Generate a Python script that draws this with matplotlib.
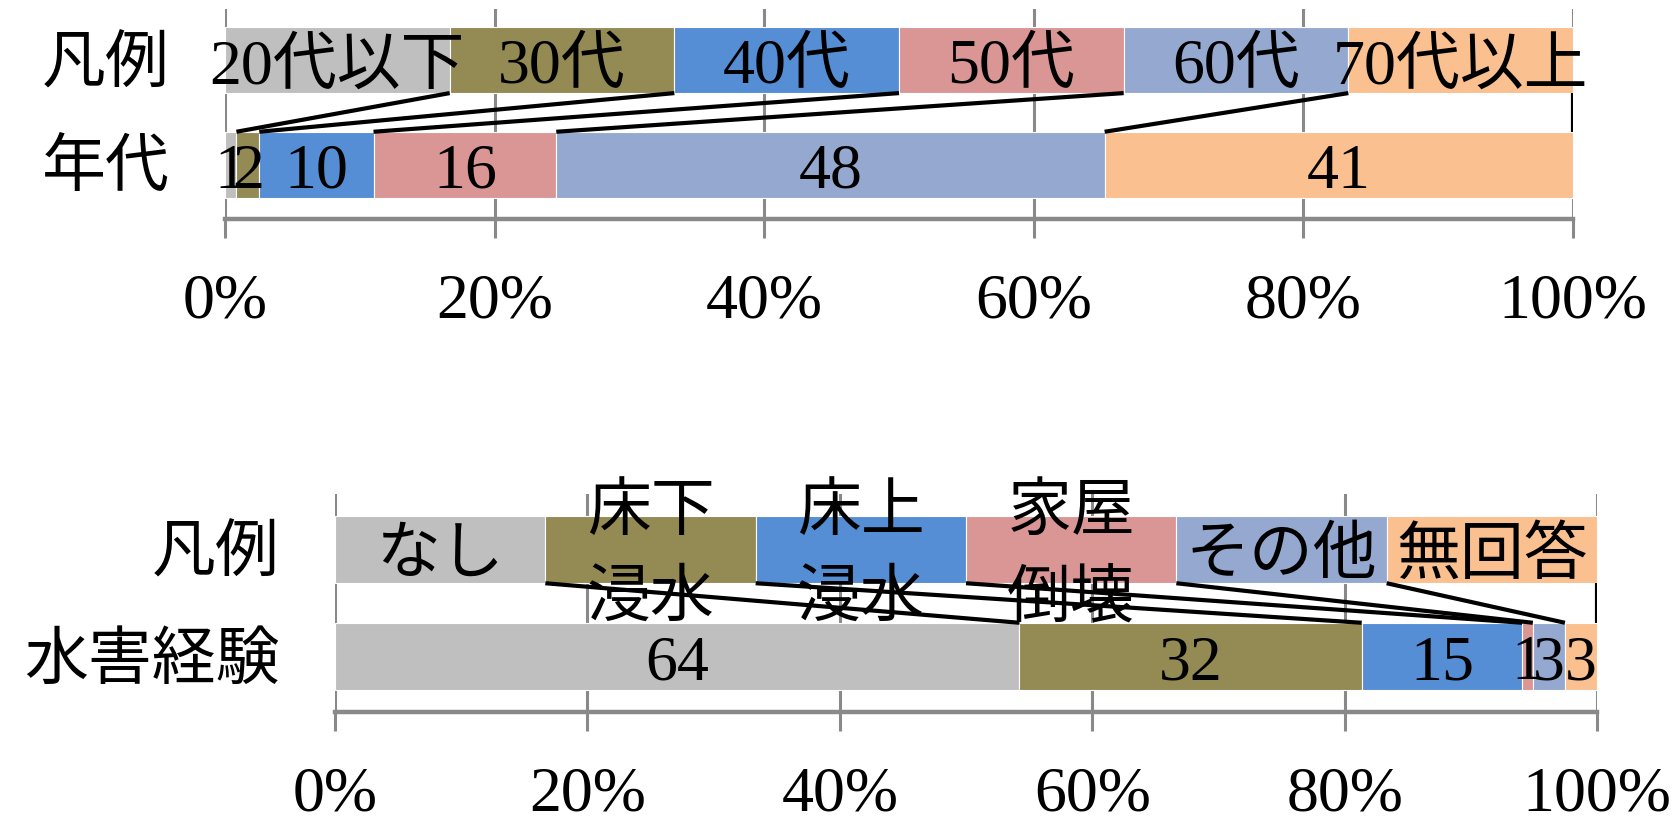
import matplotlib
matplotlib.use("Agg")
import matplotlib.pyplot as plt
import matplotlib.transforms as mtransforms
import numpy as np

plt.rcParams['font.family'] = ['Liberation Serif', 'Noto Sans CJK JP', 'DejaVu Sans']

# 年代 (回答者数)
age_groups = ['20代以下', '30代', '40代', '50代', '60代', '70代以上']
age_counts = [1, 2, 10, 16, 48, 41]
age_rows = ['年代', '凡例']

# 水害経験 (回答者数)
damage_types = ['なし', '床下\n浸水', '床上\n浸水', '家屋\n倒壊', 'その他', '無回答']
damage_counts = [64, 32, 15, 1, 3, 3]
damage_rows = ['水害経験', '凡例']

colors = ['#BFBFBF', '#948A54', '#558ED5', '#D99694', '#95A9D0', '#FAC090']
tick_pct = [0, 20, 40, 60, 80, 100]

FS = 46
GRID = '#898989'
BAR_H = 0.63


def stacked_panel(fig, ax, names, counts, rows, ylim):
    counts = np.asarray(counts, dtype=float)
    share = counts / counts.sum() * 100
    data_left = np.concatenate([[0], np.cumsum(share)[:-1]])
    n = len(names)
    leg_share = np.full(n, 100.0 / n)
    leg_left = np.arange(n) * 100.0 / n

    # legend row (equal widths) and data row
    ax.barh(1, leg_share, left=leg_left, height=BAR_H, color=colors,
            edgecolor='white', linewidth=0.8, zorder=2)
    ax.barh(0, share, left=data_left, height=BAR_H, color=colors,
            edgecolor='white', linewidth=0.8, zorder=2)

    # series lines between the right edges of the two rows
    for i in range(n):
        ax.plot([leg_left[i] + leg_share[i], data_left[i] + share[i]],
                [1 - BAR_H / 2, BAR_H / 2], color='black', lw=3.0,
                zorder=3, solid_capstyle='butt')

    # labels sit a little below the bar centre
    shifted = mtransforms.offset_copy(ax.transData, fig=fig, x=0, y=-8,
                                      units='dots')
    for i in range(n):
        ax.text(leg_left[i] + leg_share[i] / 2, 1, names[i], ha='center',
                va='center', fontsize=FS, zorder=4, linespacing=1.6,
                transform=shifted)
        ax.text(data_left[i] + share[i] / 2, 0, f'{int(counts[i])}',
                ha='center', va='center', fontsize=FS, zorder=4,
                transform=shifted)

    ax.set_xlim(0, 100)
    ax.set_ylim(*ylim)
    ax.set_yticks([0, 1])
    ax.set_yticklabels(rows, fontsize=FS)
    ax.set_xticks(tick_pct)
    ax.set_xticklabels([f'{t}%' for t in tick_pct], fontsize=FS)
    ax.tick_params(axis='y', length=0, pad=40)
    ax.tick_params(axis='x', direction='out', length=14, width=2.2,
                   color=GRID, pad=25)
    for side in ('left', 'right', 'top'):
        ax.spines[side].set_visible(False)
    ax.spines['bottom'].set_color(GRID)
    ax.spines['bottom'].set_linewidth(3.2)
    ax.xaxis.grid(True, color=GRID, linewidth=2.2, zorder=0)
    ax.set_axisbelow(True)


W, H = 1678, 822
fig = plt.figure(figsize=(W / 100, H / 100), dpi=100)

ax_top = fig.add_axes([225 / W, 1 - 219 / H, (1573 - 225) / W, (219 - 9) / H])
stacked_panel(fig, ax_top, age_groups, age_counts, age_rows, (-0.52, 1.49))

ax_bot = fig.add_axes([335 / W, 1 - 712 / H, (1597 - 335) / W, (712 - 494) / H])
stacked_panel(fig, ax_bot, damage_types, damage_counts, damage_rows, (-0.52, 1.52))

fig.savefig('out.png', dpi=100)
